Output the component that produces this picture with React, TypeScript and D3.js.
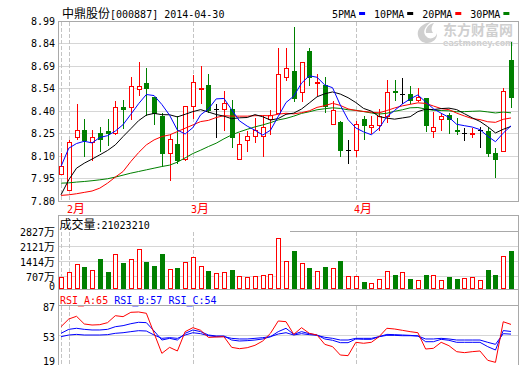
import React from 'react';
import * as d3 from 'd3';

const dates = [
  '2014-01-30',
  '2014-02-07','2014-02-10','2014-02-11','2014-02-12','2014-02-13','2014-02-14','2014-02-17','2014-02-18','2014-02-19','2014-02-20','2014-02-21','2014-02-24','2014-02-25','2014-02-26','2014-02-27','2014-02-28',
  '2014-03-03','2014-03-04','2014-03-05','2014-03-06','2014-03-07','2014-03-10','2014-03-11','2014-03-12','2014-03-13','2014-03-14','2014-03-17','2014-03-18','2014-03-19','2014-03-20','2014-03-21','2014-03-24','2014-03-25','2014-03-26','2014-03-27','2014-03-28','2014-03-31',
  '2014-04-01','2014-04-02','2014-04-03','2014-04-04','2014-04-08','2014-04-09','2014-04-10','2014-04-11','2014-04-14','2014-04-15','2014-04-16','2014-04-17','2014-04-18','2014-04-21','2014-04-22','2014-04-23','2014-04-24','2014-04-25','2014-04-28','2014-04-29','2014-04-30',
];

const openP = [7.98, 7.87, 8.22, 8.27, 8.19, 8.25, 8.26, 8.25, 8.42, 8.42, 8.54, 8.58, 8.49, 8.36, 8.12, 8.18, 8.08, 8.43, 8.54, 8.57, 8.41, 8.41, 8.41, 8.08, 8.20, 8.23, 8.23, 8.34, 8.38, 8.62, 8.66, 8.52, 8.79, 8.58, 8.57, 8.31, 8.32, 8.14, 8.14, 8.34, 8.29, 8.30, 8.36, 8.53, 8.51, 8.51, 8.47, 8.48, 8.26, 8.34, 8.37, 8.27, 8.25, 8.24, 8.27, 8.26, 8.12, 8.13, 8.73];
const highP = [8.12, 8.20, 8.44, 8.34, 8.27, 8.29, 8.34, 8.46, 8.47, 8.62, 8.72, 8.68, 8.49, 8.38, 8.24, 8.36, 8.43, 8.63, 8.69, 8.64, 8.44, 8.53, 8.47, 8.25, 8.26, 8.35, 8.36, 8.40, 8.81, 8.81, 8.95, 8.72, 8.81, 8.64, 8.62, 8.46, 8.33, 8.20, 8.33, 8.36, 8.36, 8.41, 8.60, 8.60, 8.61, 8.56, 8.55, 8.48, 8.39, 8.38, 8.38, 8.35, 8.28, 8.28, 8.29, 8.29, 8.15, 8.55, 8.85];
const lowP = [7.98, 7.87, 8.21, 8.10, 8.07, 8.13, 8.17, 8.24, 8.28, 8.34, 8.50, 8.37, 8.31, 8.03, 7.94, 8.05, 8.07, 8.35, 8.45, 8.39, 8.22, 8.27, 8.16, 8.08, 8.13, 8.19, 8.10, 8.24, 8.38, 8.60, 8.46, 8.46, 8.57, 8.50, 8.39, 8.31, 8.10, 8.05, 8.10, 8.21, 8.25, 8.27, 8.32, 8.47, 8.45, 8.45, 8.46, 8.26, 8.22, 8.27, 8.25, 8.24, 8.20, 8.22, 8.16, 8.10, 7.96, 8.13, 8.42];
const closeP = [8.03, 8.19, 8.27, 8.20, 8.22, 8.21, 8.25, 8.42, 8.41, 8.56, 8.56, 8.55, 8.38, 8.12, 8.21, 8.07, 8.43, 8.59, 8.55, 8.40, 8.41, 8.45, 8.22, 8.18, 8.23, 8.27, 8.29, 8.37, 8.64, 8.68, 8.48, 8.72, 8.62, 8.59, 8.43, 8.40, 8.14, 8.14, 8.31, 8.30, 8.30, 8.36, 8.52, 8.52, 8.51, 8.47, 8.49, 8.30, 8.29, 8.36, 8.34, 8.26, 8.25, 8.25, 8.27, 8.12, 8.08, 8.53, 8.49];

// volume in 万 shares
const volume = [679, 928, 1291, 1164, 1009, 1541, 928, 1763, 1353, 1527, 1998, 1400, 1211, 1777, 1056, 1117, 1400, 1621, 1197, 976, 881, 914, 1023, 726, 679, 726, 773, 820, 2517, 1433, 1918, 1353, 1117, 976, 1164, 1103, 1447, 726, 726, 457, 396, 584, 976, 787, 928, 599, 551, 787, 773, 551, 707, 599, 646, 693, 551, 1037, 787, 1683, 1932];

const ma5 = [8.028, 8.149, 8.180, 8.195, 8.184, 8.220, 8.232, 8.262, 8.305, 8.373, 8.443, 8.504, 8.497, 8.438, 8.367, 8.269, 8.243, 8.285, 8.370, 8.408, 8.475, 8.478, 8.403, 8.330, 8.295, 8.268, 8.236, 8.268, 8.359, 8.451, 8.493, 8.579, 8.628, 8.618, 8.567, 8.549, 8.434, 8.338, 8.283, 8.257, 8.238, 8.281, 8.358, 8.399, 8.441, 8.475, 8.501, 8.455, 8.410, 8.380, 8.353, 8.307, 8.298, 8.289, 8.272, 8.228, 8.192, 8.249, 8.297];
const ma10 = [7.841, 7.940, 8.017, 8.050, 8.077, 8.105, 8.134, 8.171, 8.226, 8.278, 8.331, 8.368, 8.379, 8.371, 8.370, 8.356, 8.373, 8.391, 8.404, 8.388, 8.372, 8.361, 8.344, 8.350, 8.352, 8.371, 8.357, 8.335, 8.345, 8.373, 8.381, 8.408, 8.448, 8.489, 8.509, 8.521, 8.507, 8.483, 8.451, 8.412, 8.394, 8.358, 8.348, 8.341, 8.349, 8.357, 8.391, 8.407, 8.404, 8.411, 8.414, 8.404, 8.377, 8.350, 8.326, 8.291, 8.250, 8.274, 8.293];
const ma20 = [7.837, 7.841, 7.848, 7.857, 7.866, 7.885, 7.918, 7.958, 7.995, 8.061, 8.120, 8.171, 8.204, 8.226, 8.237, 8.259, 8.281, 8.303, 8.325, 8.333, 8.352, 8.364, 8.361, 8.361, 8.361, 8.364, 8.365, 8.363, 8.374, 8.380, 8.376, 8.384, 8.396, 8.419, 8.430, 8.446, 8.432, 8.409, 8.398, 8.392, 8.387, 8.383, 8.398, 8.415, 8.429, 8.439, 8.449, 8.445, 8.428, 8.411, 8.404, 8.381, 8.362, 8.345, 8.338, 8.324, 8.320, 8.340, 8.349];
const ma30 = [7.918, 7.920, 7.925, 7.929, 7.934, 7.940, 7.947, 7.958, 7.971, 7.984, 7.995, 8.006, 8.017, 8.028, 8.037, 8.057, 8.085, 8.114, 8.136, 8.160, 8.182, 8.211, 8.237, 8.257, 8.274, 8.290, 8.303, 8.318, 8.336, 8.346, 8.361, 8.379, 8.390, 8.403, 8.410, 8.416, 8.412, 8.403, 8.400, 8.391, 8.382, 8.375, 8.380, 8.393, 8.403, 8.416, 8.418, 8.408, 8.400, 8.398, 8.396, 8.390, 8.391, 8.393, 8.395, 8.389, 8.382, 8.388, 8.383];

const rsiA = [62.4, 71.1, 74.2, 65.5, 64.3, 64.7, 67.0, 74.9, 73.8, 78.7, 79.1, 77.6, 54.9, 32.2, 39.0, 34.9, 56.8, 61.3, 58.3, 50.3, 50.7, 51.1, 39.0, 37.5, 38.6, 41.3, 46.2, 54.9, 68.9, 68.1, 53.7, 61.3, 54.9, 53.0, 42.4, 39.8, 30.3, 29.6, 44.7, 43.6, 44.7, 51.1, 60.6, 59.8, 58.3, 56.8, 55.6, 37.1, 37.9, 44.7, 40.9, 34.1, 33.0, 34.1, 34.9, 24.3, 22.0, 68.0, 65.0];
const rsiB = [54.9, 59.4, 60.6, 59.4, 58.7, 58.7, 59.4, 62.4, 63.6, 65.8, 67.4, 67.0, 57.5, 47.3, 49.2, 47.3, 54.9, 58.7, 56.8, 53.0, 51.9, 51.9, 47.3, 46.2, 46.6, 47.3, 48.5, 51.1, 56.8, 60.6, 53.7, 56.8, 54.5, 53.0, 48.5, 47.0, 44.3, 44.3, 48.5, 48.1, 48.1, 51.1, 53.7, 53.4, 53.0, 52.6, 51.9, 45.4, 45.4, 48.1, 47.0, 44.7, 44.7, 44.7, 44.7, 39.8, 36.0, 58.0, 57.0];
const rsiC = [51.1, 53.0, 53.7, 53.0, 53.0, 53.0, 53.4, 54.9, 55.6, 56.8, 57.9, 57.5, 53.0, 49.2, 50.0, 49.2, 53.0, 55.6, 54.5, 52.3, 51.1, 51.1, 49.2, 48.5, 48.5, 49.2, 50.0, 51.1, 54.1, 55.6, 53.0, 54.5, 53.4, 52.6, 50.4, 49.2, 47.3, 47.3, 49.2, 49.2, 49.2, 51.1, 52.6, 52.6, 52.2, 52.2, 51.9, 48.5, 48.5, 49.2, 48.5, 47.3, 47.3, 47.3, 47.3, 44.7, 42.4, 54.5, 54.0];

const priceTicks = ['8.99', '8.84', '8.69', '8.54', '8.40', '8.25', '8.10', '7.95', '7.80'];
const volTickValues = [2827, 2121, 1414, 707, 0];
const volTickLabels = ['2827', '2121', '1414', '707', '0'];
const rsiTicks = [87, 53, 19];

const legendNames = ['5PMA', '10PMA', '20PMA', '30PMA'];
const legendColors = ['#0000ff', '#000000', '#ff0000', '#008000'];

const MONO = "'DejaVu Sans Mono', 'Liberation Mono', monospace";
const CJK = "'Noto Sans CJK SC', 'Noto Sans', sans-serif";

const RED = '#ff0000';
const GREEN = '#008000';
const BORDER = '#a9a9a9';
const GRID = '#d6d6d6';
const DASH = '#c4c4c4';

const L = 58, R = 518;
const P_TOP = 21, P_BOT = 201;
const V_TOP = 215, V_BOT = 289;
const S_TOP = 305, S_BOT = 365;

export default function App() {
  const x = d3.scalePoint<string>().domain(dates).range([61, 511]);
  const cx = (i: number) => Math.round(x(dates[i]) as number);
  const y = d3.scaleLinear().domain([7.8, 8.99]).range([P_BOT, P_TOP]);
  const yv = d3.scaleLinear().domain([0, 2827]).range([291.7, 231.7]);
  const yr = d3.scaleLinear().domain([19, 87]).range([S_BOT, S_TOP]);

  const mkLine = (arr: number[], sc: (v: number) => number) =>
    d3.line<number>().x((_, i) => x(dates[i]) as number).y((d) => sc(d))(arr) || '';

  const monthIdx = dates
    .map((d, i) => (i === 0 || d.slice(5, 7) !== dates[i - 1].slice(5, 7) ? i : -1))
    .filter((i) => i >= 0);

  const priceGridPos = priceTicks.map((t, k) => P_TOP + (k * (P_BOT - P_TOP)) / (priceTicks.length - 1));

  const candles = dates.map((_, i) => {
    const o = openP[i], c = closeP[i];
    const X = cx(i);
    const yo = y(o), yc = y(c);
    const yh = Math.round(y(highP[i])), yl = Math.round(y(lowP[i]));
    const top = Math.round(Math.min(yo, yc)), bot = Math.round(Math.max(yo, yc));
    const color = c === o ? '#000' : c > o ? RED : GREEN;
    if (bot - top < 1) {
      return (
        <g key={i} stroke={color} strokeWidth={1}>
          <line x1={X + 0.5} x2={X + 0.5} y1={yh} y2={yl + 1} />
          <line x1={X - 2} x2={X + 3} y1={top + 0.5} y2={top + 0.5} />
        </g>
      );
    }
    if (c > o) {
      return (
        <g key={i} stroke={RED} strokeWidth={1}>
          {yh < top && <line x1={X + 0.5} x2={X + 0.5} y1={yh} y2={top} />}
          {yl > bot && <line x1={X + 0.5} x2={X + 0.5} y1={bot + 1} y2={yl + 1} />}
          <rect x={X - 1.5} y={top + 0.5} width={4} height={bot - top} fill="#fff" />
        </g>
      );
    }
    return (
      <g key={i}>
        <line x1={X + 0.5} x2={X + 0.5} y1={yh} y2={yl + 1} stroke={GREEN} />
        <rect x={X - 2} y={top} width={5} height={bot - top + 1} fill={GREEN} />
      </g>
    );
  });

  const volBars = dates.map((_, i) => {
    const X = cx(i);
    const t = Math.round(yv(volume[i]));
    if (closeP[i] >= openP[i]) {
      return <rect key={i} x={X - 1.5} y={t + 0.5} width={4} height={V_BOT - 1 - t} fill="#fff" stroke={RED} />;
    }
    return <rect key={i} x={X - 2} y={t} width={5} height={V_BOT - t} fill={GREEN} />;
  });

  let lx = 332;
  const legend = legendNames.map((n, k) => {
    const tx = lx;
    const rx = tx + n.length * 6.02 + 3;
    lx = rx + 6 + 9;
    return (
      <g key={n}>
        <text x={tx} y={18} fontFamily={MONO} fontSize={10} fill="#000">{n}</text>
        <rect x={rx} y={12} width={6} height={3} fill={legendColors[k]} />
      </g>
    );
  });

  return (
    <svg width={520} height={365} style={{ position: 'absolute', left: 0, top: 0, display: 'block', background: '#fff' }}>
      <rect x={0} y={0} width={520} height={365} fill="#fff" />

      {/* watermark */}
      <g fill="#cfcfcf">
        <path d="M421,41 C414,33 419,24 431,22 C424,27 422,33 427,37 C430,40 436,38 437,33 C438,41 428,46 421,41 Z" />
        <path d="M426,33 C425,28 429,24 434,23 C431,27 431,30 433,33 Z" />
        <text x={443} y={35} fontFamily={CJK} fontSize={14} fontWeight={700}>东方财富网</text>
        <text x={443} y={46} fontFamily="'DejaVu Sans', sans-serif" fontSize={8} fontWeight={700}>eastmoney.com</text>
      </g>

      {/* title */}
      <text x={62} y={18} fill="#000">
        <tspan fontFamily={CJK} fontSize={12}>中鼎股份</tspan>
        <tspan fontFamily={MONO} fontSize={10}>[000887] 2014-04-30</tspan>
      </text>
      {legend}

      {/* price panel grid */}
      {priceGridPos.slice(1, -1).map((p, k) => (
        <line key={k} x1={L} x2={R} y1={Math.floor(p) + 0.5} y2={Math.floor(p) + 0.5} stroke={GRID} />
      ))}
      {priceTicks.map((t, k) => (
        <text key={t} x={55} y={priceGridPos[k] + 3.5} textAnchor="end" fontFamily={MONO} fontSize={10} fill="#000">{t}</text>
      ))}

      {/* volume grid */}
      {volTickValues.filter((v) => v > 0).map((v, k) => (
        <line key={v} x1={k === 0 ? 290 : L} x2={R} y1={Math.floor(yv(v)) + 0.5} y2={Math.floor(yv(v)) + 0.5} stroke={k === 0 ? BORDER : GRID} />
      ))}
      {volTickValues.map((v, k) => (
        <text key={v} x={55} y={v > 0 ? yv(v) + 4 : 290} textAnchor="end" fill="#000">
          <tspan fontFamily={MONO} fontSize={10}>{volTickLabels[k]}</tspan>
          {v > 0 && <tspan fontFamily={CJK} fontSize={11}>万</tspan>}
        </text>
      ))}

      {/* rsi grid */}
      <line x1={L} x2={R} y1={Math.floor(yr(53)) + 0.5} y2={Math.floor(yr(53)) + 0.5} stroke={GRID} />
      {rsiTicks.map((v) => (
        <text key={v} x={55} y={Math.min(yr(v) + 5.5, 364.5)} textAnchor="end" fontFamily={MONO} fontSize={10} fill="#000">{v}</text>
      ))}

      {/* month dashed lines */}
      {monthIdx.map((i) => (
        <g key={i} stroke={DASH} strokeDasharray="4,2">
          <line x1={cx(i) + 0.5} x2={cx(i) + 0.5} y1={P_TOP + 1} y2={P_BOT} />
          <line x1={cx(i) + 0.5} x2={cx(i) + 0.5} y1={232} y2={V_BOT} />
          <line x1={cx(i) + 0.5} x2={cx(i) + 0.5} y1={S_TOP + 1} y2={S_BOT} />
        </g>
      ))}
      {monthIdx.filter((i) => i > 0).map((i) => (
        <text key={i} x={cx(i) - 2} y={213} fill={RED}>
          <tspan fontFamily={MONO} fontSize={10}>{String(+dates[i].slice(5, 7))}</tspan>
          <tspan fontFamily={CJK} fontSize={12}>月</tspan>
        </text>
      ))}

      {/* panel borders */}
      <g stroke={BORDER} fill="none">
        <rect x={L + 0.5} y={P_TOP + 0.5} width={R - L} height={P_BOT - P_TOP} />
        <line x1={L} x2={R + 1} y1={V_TOP + 0.5} y2={V_TOP + 0.5} />
        <line x1={L} x2={R + 1} y1={V_BOT + 0.5} y2={V_BOT + 0.5} />
        <line x1={L} x2={R + 1} y1={S_TOP + 0.5} y2={S_TOP + 0.5} />
        <line x1={L + 0.5} x2={L + 0.5} y1={V_TOP} y2={S_BOT} />
        <line x1={R + 0.5} x2={R + 0.5} y1={V_TOP} y2={S_BOT} />
      </g>

      {/* volume title */}
      <text x={59.5} y={229} fill="#000">
        <tspan fontFamily={CJK} fontSize={12}>成交量</tspan>
        <tspan fontFamily={MONO} fontSize={10}>:21023210</tspan>
      </text>
      {/* rsi title */}
      <text x={60} y={303.5} fontFamily={MONO} fontSize={10}>
        <tspan fill={RED}>RSI_A:65 </tspan>
        <tspan fill="#0000ff">RSI_B:57 </tspan>
        <tspan fill="#0000ff">RSI_C:54</tspan>
      </text>

      {/* candles */}
      <g shapeRendering="crispEdges">{candles}</g>

      {/* moving averages */}
      <g fill="none" strokeWidth={1}>
        <path d={mkLine(ma30, y)} stroke={GREEN} />
        <path d={mkLine(ma20, y)} stroke={RED} />
        <path d={mkLine(ma10, y)} stroke="#000" />
        <path d={mkLine(ma5, y)} stroke="#0000ff" />
      </g>

      {/* volume bars */}
      <g shapeRendering="crispEdges">{volBars}</g>

      {/* RSI lines */}
      <g fill="none" strokeWidth={1}>
        <path d={mkLine(rsiC, yr)} stroke="#0000ff" />
        <path d={mkLine(rsiB, yr)} stroke="#0000ff" />
        <path d={mkLine(rsiA, yr)} stroke={RED} />
      </g>
    </svg>
  );
}
